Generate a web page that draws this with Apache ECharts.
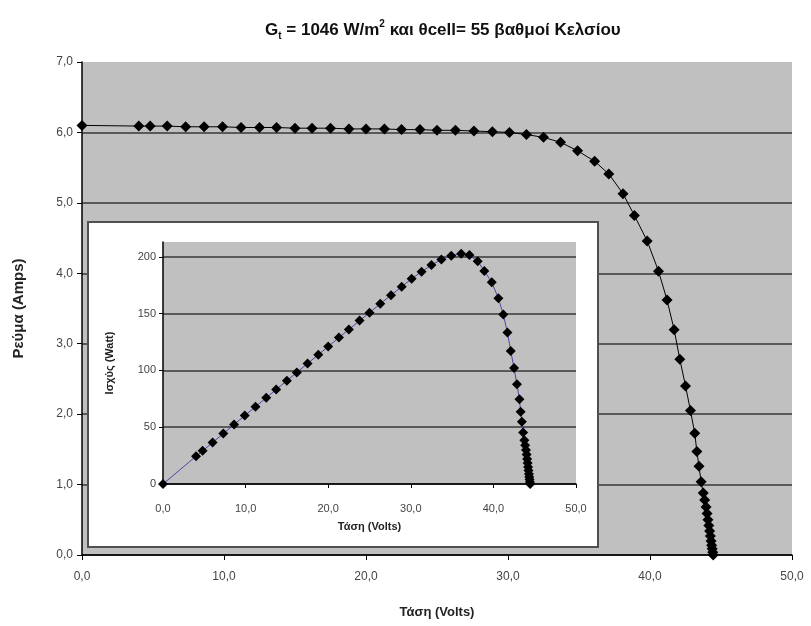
<!DOCTYPE html>
<html>
<head>
<meta charset="utf-8">
<script src="https://cdn.jsdelivr.net/npm/echarts@6/dist/echarts.min.js"></script>
<style>
    html, body { margin: 0; padding: 0; background: #fff; }
    #chart { width: 811px; height: 626px; }
</style>
</head>
<body>
<div id="chart"></div>
<script>
// I-V curve: voltage (Volts) and current (Amps)
var voltage = [0, 4.0, 4.8, 6.0, 7.3, 8.6, 9.9, 11.2, 12.5, 13.7, 15.0, 16.2, 17.5, 18.8, 20.0,
    21.3, 22.5, 23.8, 25.0, 26.3, 27.6, 28.9, 30.1, 31.3, 32.5, 33.7, 34.9, 36.1, 37.1, 38.1,
    38.9, 39.8, 40.6, 41.2, 41.7, 42.1, 42.5, 42.85, 43.15, 43.3, 43.45, 43.6, 43.75, 43.85,
    43.95, 44.02, 44.08, 44.14, 44.2, 44.25, 44.3, 44.34, 44.38, 44.42, 44.45];
var current = [6.10, 6.09, 6.09, 6.09, 6.08, 6.08, 6.08, 6.07, 6.07, 6.07, 6.06, 6.06, 6.06, 6.05, 6.05,
    6.05, 6.04, 6.04, 6.03, 6.03, 6.02, 6.01, 6.00, 5.97, 5.93, 5.86, 5.74, 5.59, 5.41, 5.13,
    4.82, 4.46, 4.03, 3.62, 3.20, 2.78, 2.40, 2.05, 1.73, 1.47, 1.26, 1.04, 0.88, 0.78,
    0.68, 0.59, 0.50, 0.42, 0.34, 0.27, 0.20, 0.14, 0.09, 0.04, 0.0];
// P-V curve of the inset (Watt), same voltages
var power = [0, 24.4, 29.2, 36.5, 44.4, 52.3, 60.2, 68.0, 75.9, 83.2, 90.9, 98.2, 106.1, 113.7, 121.0,
    128.9, 135.9, 143.8, 150.8, 158.6, 166.2, 173.7, 180.6, 186.9, 192.7, 197.6, 201.0, 202.6, 201.5, 196.0,
    187.5, 177.5, 163.6, 149.1, 133.4, 117.0, 102.0, 87.8, 74.7, 63.7, 54.7, 45.4, 38.5, 34.2,
    29.9, 26.0, 22.0, 18.5, 15.0, 11.9, 8.9, 6.2, 4.0, 1.8, 0];

var mainTitle = '{g|G}{sub|t}{g| = 1046 W/m}{sup|2}{g| και θcell= 55 βαθμοί Κελσίου}';

var font = '"Liberation Sans", Arial, sans-serif';

function pair(xs, ys){
    return xs.map(function(x, i){ return [x, ys[i]]; });
}
// 10.0 -> "10,0"
function comma(v){
    return v.toFixed(1).replace('.', ',');
}

var chart = echarts.init(document.getElementById('chart'));

var option = {
    animation: false,
    backgroundColor: '#fff',
    title: {
        text: mainTitle,
        left: 260,
        top: 14,
        textStyle: {
            rich: {
                g: { fontFamily: font, fontSize: 17, fontWeight: 'bold', color: '#111', lineHeight: 22 },
                sub: { fontFamily: font, fontSize: 10, fontWeight: 'bold', color: '#111', lineHeight: 11, verticalAlign: 'bottom' },
                sup: { fontFamily: font, fontSize: 10, fontWeight: 'bold', color: '#111', lineHeight: 11, verticalAlign: 'top' }
            }
        }
    },
    // white box behind the inset chart
    graphic: [{
        type: 'rect',
        z: 10,
        shape: { x: 88, y: 222, width: 510, height: 325 },
        style: { fill: '#fff', stroke: '#505050', lineWidth: 2 }
    }],
    grid: [{
        left: 82, right: 19, top: 62, bottom: 71,
        show: true, backgroundColor: '#c0c0c0', borderWidth: 0
    }, {
        left: 163, right: 235, top: 242, bottom: 142,
        show: true, backgroundColor: '#c0c0c0', borderWidth: 0, z: 11
    }],
    xAxis: [{
        type: 'value', gridIndex: 0,
        min: 0, max: 50, interval: 10,
        name: 'Τάση (Volts)', nameLocation: 'middle', nameGap: 51,
        nameTextStyle: { fontFamily: font, fontSize: 13, fontWeight: 'bold', color: '#222' },
        axisLine: { show: true, onZero: false, lineStyle: { color: '#000', width: 1.5 } },
        axisTick: { show: true, length: 5, lineStyle: { color: '#000' } },
        axisLabel: { fontFamily: font, fontSize: 12, color: '#444', margin: 16, formatter: comma },
        splitLine: { show: false }
    }, {
        type: 'value', gridIndex: 1, z: 12,
        min: 0, max: 50, interval: 10,
        name: 'Τάση (Volts)', nameLocation: 'middle', nameGap: 37,
        nameTextStyle: { fontFamily: font, fontSize: 11, fontWeight: 'bold', color: '#222' },
        axisLine: { show: true, onZero: false, lineStyle: { color: '#000', width: 1.5 } },
        axisTick: { show: true, length: 4, lineStyle: { color: '#000' } },
        axisLabel: { fontFamily: font, fontSize: 11, color: '#444', margin: 19, formatter: comma },
        splitLine: { show: false }
    }],
    yAxis: [{
        type: 'value', gridIndex: 0,
        min: 0, max: 7, interval: 1,
        name: 'Ρεύμα (Amps)', nameLocation: 'middle', nameGap: 56, nameRotate: 90,
        nameTextStyle: { fontFamily: font, fontSize: 15, fontWeight: 'bold', color: '#222' },
        axisLine: { show: true, onZero: false, lineStyle: { color: '#000', width: 1.5 } },
        axisTick: { show: true, length: 5, lineStyle: { color: '#000' } },
        axisLabel: { fontFamily: font, fontSize: 12, color: '#444', margin: 9, formatter: comma },
        splitLine: { show: true, showMaxLine: false, lineStyle: { color: '#383838', width: 1.6 } }
    }, {
        type: 'value', gridIndex: 1, z: 12,
        min: 0, max: 213, interval: 50,
        name: 'Ισχύς (Watt)', nameLocation: 'middle', nameGap: 48, nameRotate: 90,
        nameTextStyle: { fontFamily: font, fontSize: 11, fontWeight: 'bold', color: '#222' },
        axisLine: { show: true, onZero: false, lineStyle: { color: '#000', width: 1.5 } },
        axisTick: { show: true, length: 4, lineStyle: { color: '#000' } },
        axisLabel: { fontFamily: font, fontSize: 11, color: '#444', margin: 7, showMaxLabel: false },
        splitLine: { show: true, showMaxLine: false, lineStyle: { color: '#383838', width: 1.6 } }
    }],
    series: [{
        name: 'I-V',
        type: 'line',
        xAxisIndex: 0, yAxisIndex: 0,
        data: pair(voltage, current),
        symbol: 'diamond', symbolSize: 11,
        itemStyle: { color: '#000' },
        lineStyle: { color: '#000', width: 1 },
        z: 2
    }, {
        name: 'P-V',
        type: 'line',
        xAxisIndex: 1, yAxisIndex: 1,
        data: pair(voltage, power),
        symbol: 'diamond', symbolSize: 10,
        itemStyle: { color: '#000' },
        lineStyle: { color: '#4848a8', width: 1 },
        z: 13
    }]
};

chart.setOption(option);
</script>
</body>
</html>
